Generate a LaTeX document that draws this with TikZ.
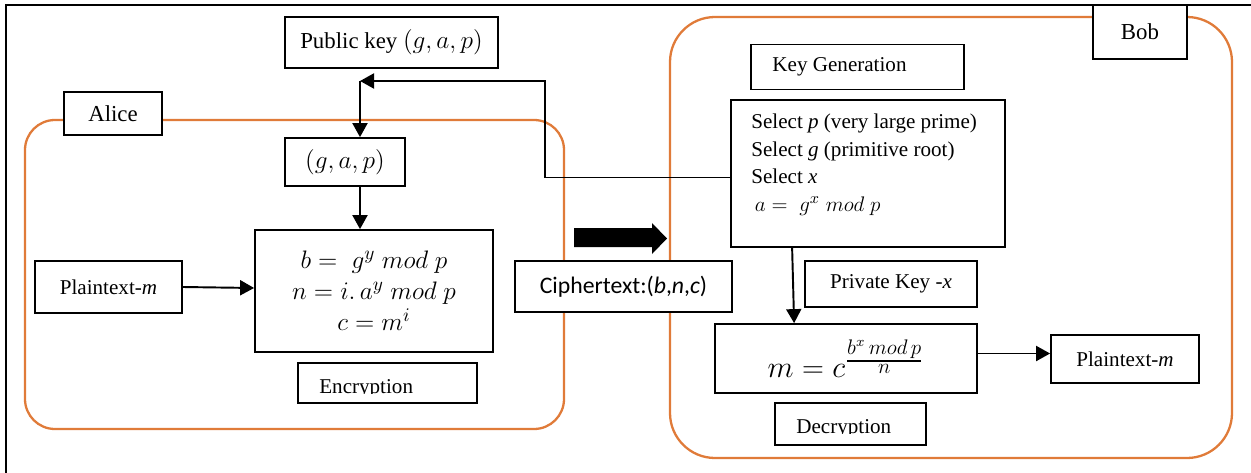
\documentclass[tikz,border=0pt]{standalone}
\usepackage{amsmath}
\usepackage{fontspec}
\setmainfont{Liberation Serif}
\newfontfamily\calibri{Carlito}
\usetikzlibrary{arrows.meta,calc}
\definecolor{wordorange}{RGB}{224,123,57}
\begin{document}
\begin{tikzpicture}[x=0.02cm,y=-0.02cm,
  bx/.style n args={2}{draw, line width=1pt, fill=white,
    minimum width=#1*0.02cm, minimum height=#2*0.02cm, inner sep=0pt,
    font=\fontsize{12}{14}\selectfont},
  conn/.style={line width=1.1pt, -{Triangle[length=0.28cm,width=0.3cm]}},
  party/.style={draw=wordorange, line width=1.3pt},
  lbl/.style={anchor=base west, inner sep=0pt, font=\fontsize{12}{14}\selectfont},
]
\useasboundingbox (0,0) rectangle (1251,473);
% outer frame
\draw[line width=1pt] (6,473) -- (6,5) -- (1251,5);

% party regions
\draw[party, rounded corners=0.6cm] (25,120) rectangle (564,429);
\draw[party, rounded corners=0.9cm] (670,17) rectangle (1232,458);

% Alice side
\node[bx={213}{51}, font=\fontsize{13}{15}\selectfont] (pub) at (391.5,42.5) {Public key {\fontsize{14}{16}\selectfont$(g, a, p)$}};
\node[bx={98}{43}, font=\fontsize{13}{15}\selectfont] (alice) at (113,113.5) {Alice};
\node[bx={120}{48}, font=\fontsize{15}{17}\selectfont] (gap) at (345,162) {$(g, a, p)$};
\node[bx={238}{122}, align=center, font=\fontsize{15}{17.6}\selectfont] (enc) at (374,291)
  {$b = \; g^y\ mod\ p$\\ $n = i.\,a^y\ mod\ p$\\ $c = m^i$};
\node[bx={147}{52}] (ptl) at (108.5,287) {Plaintext-\textit{m}};
\node[bx={179}{40}] (encl) at (387.5,383) {};
\begin{scope}
  \clip (encl.north west) rectangle (encl.east |- 0,393);
  \node[lbl] (enct) at (319,393) {Encryption};
\end{scope}

% middle
\node[bx={217}{51}, font=\fontsize{13.5}{15}\calibri] (ciph) at (623.5,286.5)
  {Ciphertext:(\textit{b},\textit{n},\textit{c})};
\fill (574,228) -- (652,228) -- (652,223) -- (667,238.5) -- (652,254) -- (652,247) -- (574,247) -- cycle;

% Bob side
\node[bx={94}{54}, font=\fontsize{13}{15}\selectfont] (bob) at (1140,32) {Bob};
\node[bx={213}{45}] (kg) at (857.5,67) {Key Generation\hspace*{0.72cm}};
\node[bx={274}{147}] (kgbox) at (868,173.5) {};
\node[anchor=north west, inner sep=0pt, align=left, font=\fontsize{12}{15.6}\selectfont] (kgt) at (751,114)
  {Select \textit{p} (very large prime)\\ Select \textit{g} (primitive root)\\ Select \textit{x}\\
   \,{\fontsize{13}{15.6}\selectfont$a = \; g^x\ mod\ p$}};
\node[bx={172}{46}] (priv) at (891,284) {Private Key -\textit{x}};
\node[bx={262}{69}, font=\fontsize{17}{19}\selectfont] (dec) at (846,358.5)
  {\raisebox{-4pt}{$m = c^{\genfrac{}{}{0.9pt}{}{\scriptstyle b^x\, mod\, p\rule[-2pt]{0pt}{2pt}}{\scriptstyle n}}$}};
\node[bx={148}{48}] (ptr) at (1125,359) {Plaintext-\textit{m}};
\node[bx={151}{42}] (decl) at (850.5,424) {};
\begin{scope}
  \clip (decl.north west) rectangle (decl.east |- 0,433);
  \node[lbl] (dect) at (796,433) {Decryption};
\end{scope}

% connectors
\coordinate (jn) at (360,81);
\draw[conn] ($(kgbox.west)+(0,4)$) -| (545,81) -- (jn);
\draw[conn] (jn) -- (jn |- gap.north);
\draw[conn] (gap.south -| jn) -- (enc.north -| jn);
\draw[conn] (ptl.east) -- ($(enc.west |- ptl.east)+(0,1)$);
\draw[conn] ($(kgbox.south west)+(62,0)$) -- ($(dec.north west)+(80,0)$);
\draw[conn] ($(dec.east)+(0,-5)$) -- ($(ptr.west |- dec.east)+(0,-5)$);
\end{tikzpicture}
\end{document}
